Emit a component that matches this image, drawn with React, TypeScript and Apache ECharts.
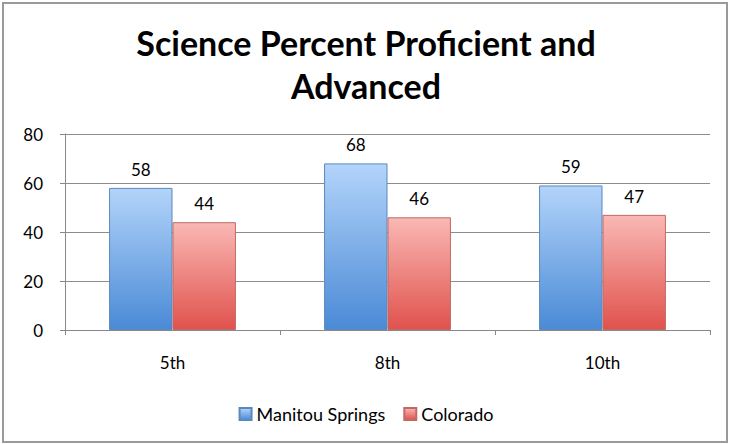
import React, { useEffect, useRef } from "react";
import * as echarts from "echarts";

const categories = ["5th", "8th", "10th"];
const manitouValues = [58, 68, 59];
const coloradoValues = [44, 46, 47];
const seriesNames = ["Manitou Springs", "Colorado"];
const yTicks = { min: 0, max: 80, interval: 20 };

const FONT = "Lato, 'Open Sans', sans-serif";

export default function App() {
  const ref = useRef<HTMLDivElement>(null);
  useEffect(() => {
    document.body.style.margin = "0";
    const chart = echarts.init(ref.current!, undefined, { renderer: "svg" });
    const blue = new echarts.graphic.LinearGradient(0, 0, 0, 1, [
      { offset: 0, color: "#b3d4fa" },
      { offset: 1, color: "#4a8ad6" },
    ]);
    const red = new echarts.graphic.LinearGradient(0, 0, 0, 1, [
      { offset: 0, color: "#fab8b4" },
      { offset: 1, color: "#e0524d" },
    ]);
    const label = {
      show: true,
      position: "top",
      distance: 10,
      fontFamily: FONT,
      fontSize: 17,
      color: "#000",
    };
    chart.setOption({
      animation: false,
      backgroundColor: "#fff",
      textStyle: { fontFamily: FONT },
      title: {
        text: "Science Percent Proficient and\nAdvanced",
        left: "center",
        top: 16,
        textStyle: {
          fontFamily: FONT,
          fontWeight: "bold",
          fontSize: 34,
          lineHeight: 43,
          color: "#000",
        },
      },
      graphic: [
        {
          type: "rect",
          shape: { x: 3, y: 3, width: 724, height: 439 },
          style: { fill: "none", stroke: "#9a9a9a", lineWidth: 2 },
          silent: true,
        },
      ],
      legend: {
        bottom: 16,
        left: "center",
        itemWidth: 12,
        itemHeight: 12,
        itemGap: 18,
        textStyle: { fontFamily: FONT, fontSize: 18, color: "#000" },
        data: seriesNames.map((n) => ({ name: n, icon: "rect" })),
      },
      grid: { left: 65, right: 22, top: 134, bottom: 114, containLabel: false },
      xAxis: {
        type: "category",
        data: categories,
        axisLine: { lineStyle: { color: "#888", width: 1 } },
        axisTick: { show: true, length: 5, lineStyle: { color: "#888" } },
        axisLabel: { fontFamily: FONT, fontSize: 17, color: "#000", margin: 24 },
      },
      yAxis: {
        type: "value",
        min: yTicks.min,
        max: yTicks.max,
        interval: yTicks.interval,
        axisLine: { show: true, lineStyle: { color: "#888", width: 1 } },
        axisTick: { show: true, length: 5, lineStyle: { color: "#888" } },
        splitLine: { lineStyle: { color: "#8c8c8c", width: 1 } },
        axisLabel: { fontFamily: FONT, fontSize: 17, color: "#000", margin: 22 },
      },
      series: [
        {
          name: seriesNames[0],
          type: "bar",
          data: manitouValues,
          barGap: "0%",
          barCategoryGap: "41%",
          itemStyle: { color: blue, borderColor: "#5b88bd", borderWidth: 1 },
          label,
        },
        {
          name: seriesNames[1],
          type: "bar",
          data: coloradoValues,
          itemStyle: { color: red, borderColor: "#c06a66", borderWidth: 1 },
          label,
        },
      ],
    });
    return () => chart.dispose();
  }, []);
  return <div ref={ref} style={{ width: 732, height: 444 }} />;
}
